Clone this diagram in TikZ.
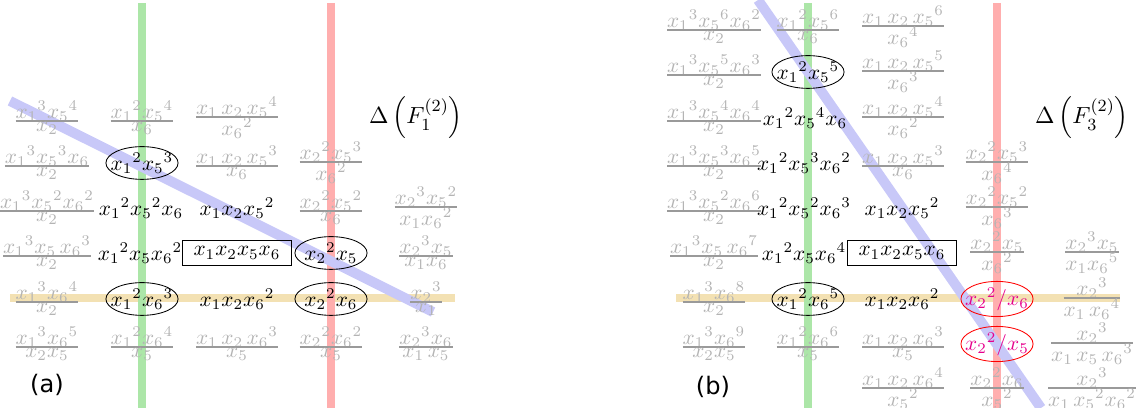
\documentclass[tikz,border=0pt]{standalone}
\usepackage{amsmath}
\usepackage{fontspec}
\usepackage{tikz}
\usetikzlibrary{shapes.geometric}
\newfontfamily\tagfont{DejaVu Sans}
\definecolor{colone}{HTML}{ACE6A8}
\definecolor{coltwo}{HTML}{FFAEAE}
\definecolor{floor}{HTML}{F3E1B3}
\definecolor{sweep}{HTML}{C8C8F8}
\definecolor{faint}{HTML}{B4B4B4}
\definecolor{fbar}{HTML}{9A9A9A}
\definecolor{dropink}{HTML}{E6008C}
% tight fraction: numerator, thick bar, denominator
\newcommand{\fr}[2]{\vcenter{\offinterlineskip
  \halign{\hfil$##$\hfil\cr #1\cr
    \noalign{\kern-1pt{\color{fbar}\hrule height 0.9pt}\kern0.3pt}
    #2\cr}}}

\begin{document}
\begin{tikzpicture}[x=0.0165cm,y=-0.0165cm,
  faded/.style={text=faint},
  pick/.style={draw,ellipse,inner sep=-4pt,minimum width=1.19cm,minimum height=0.54cm},
  drop/.style={draw=red,ellipse,text=dropink,inner sep=-4pt,minimum width=1.19cm,minimum height=0.58cm},
  lead/.style={draw,rectangle,inner sep=0pt,minimum width=1.8cm,minimum height=0.41cm},
  tag/.style={font=\tagfont\fontsize{11.3}{13}\selectfont}]
  \useasboundingbox (0,0) rectangle (1136,408);
  % guide lines (a)
  \draw[floor,line width=3.3pt] (10,298) -- (455,298);
  \draw[colone,line width=3.7pt] (142,3) -- (142,408);
  \draw[coltwo,line width=3.7pt] (331,3) -- (331,408);
  \draw[sweep,line width=4.7pt] (10,101) -- (433,312);
  % guide lines (b)
  \draw[floor,line width=3.3pt] (676,298) -- (1120,298);
  \draw[colone,line width=3.7pt] (808,3) -- (808,408);
  \draw[coltwo,line width=3.7pt] (997,3) -- (997,408);
  \draw[sweep,line width=4.7pt] (758,0) -- (1041,408);

  % panel (a)
  \node[faded] (a21) at (47,118) {$\fr{{x_1}^3{x_5}^4}{x_2}$};
  \node[faded] (a22) at (142,118) {$\fr{{x_1}^2{x_5}^4}{x_6}$};
  \node[faded] (a23) at (237,118) {$\fr{x_1\,x_2\,{x_5}^4}{{x_6}^2}$};
  \node[font=\fontsize{11}{13}\selectfont] (delA) at (416,118) {$\Delta\left(F_1^{(2)}\right)$};

  \node[faded] (a31) at (47,163) {$\fr{{x_1}^3{x_5}^3x_6}{x_2}$};
  \node[pick] (a32) at (142,163) {${x_1}^2{x_5}^3$};
  \node[faded] (a33) at (237,163) {$\fr{x_1\,x_2\,{x_5}^3}{x_6}$};
  \node[faded] (a34) at (331,163) {$\fr{{x_2}^2{x_5}^3}{{x_6}^2}$};

  \node[faded] (a41) at (47,208) {$\fr{{x_1}^3{x_5}^2{x_6}^2}{x_2}$};
  \node (a42) at (141,208) {${x_1}^2{x_5}^2x_6$};
  \node (a43) at (237,208) {$x_1x_2{x_5}^2$};
  \node[faded] (a44) at (331,208) {$\fr{{x_2}^2{x_5}^2}{x_6}$};
  \node[faded] (a45) at (426,208) {$\fr{{x_2}^3{x_5}^2}{x_1{x_6}^2}$};

  \node[faded] (a51) at (47,253) {$\fr{{x_1}^3x_5\,{x_6}^3}{x_2}$};
  \node (a52) at (140,253) {${x_1}^2x_5{x_6}^2$};
  \node[lead] (a53) at (237,253) {$x_1x_2x_5x_6$};
  \node[pick] (a54) at (331,253) {${x_2}^2x_5$};
  \node[faded] (a55) at (426,253) {$\fr{{x_2}^3x_5}{x_1x_6}$};

  \node[faded] (a61) at (47,299) {$\fr{{x_1}^3{x_6}^4}{x_2}$};
  \node[pick] (a62) at (142,299) {${x_1}^2{x_6}^3$};
  \node (a63) at (237,299) {$x_1x_2{x_6}^2$};
  \node[pick] (a64) at (331,299) {${x_2}^2x_6$};
  \node[faded] (a65) at (426,299) {$\fr{{x_2}^3}{x_1}$};

  \node[faded] (a71) at (47,344) {$\fr{{x_1}^3{x_6}^5}{x_2x_5}$};
  \node[faded] (a72) at (142,344) {$\fr{{x_1}^2{x_6}^4}{x_5}$};
  \node[faded] (a73) at (237,344) {$\fr{x_1\,x_2\,{x_6}^3}{x_5}$};
  \node[faded] (a74) at (331,344) {$\fr{{x_2}^2{x_6}^2}{x_5}$};
  \node[faded] (a75) at (426,344) {$\fr{{x_2}^3x_6}{x_1\,x_5}$};
  \node[tag] (labA) at (47,385) {(a)};

  % panel (b)
  \node[faded] (b01) at (714,27) {$\fr{{x_1}^3{x_5}^6{x_6}^2}{x_2}$};
  \node[faded] (b02) at (808,27) {$\fr{{x_1}^2{x_5}^6}{x_6}$};
  \node[faded] (b03) at (903,27) {$\fr{x_1\,x_2\,{x_5}^6}{{x_6}^4}$};

  \node[faded] (b11) at (714,72) {$\fr{{x_1}^3{x_5}^5{x_6}^3}{x_2}$};
  \node[pick] (b12) at (808,72) {${x_1}^2{x_5}^5$};
  \node[faded] (b13) at (903,72) {$\fr{x_1\,x_2\,{x_5}^5}{{x_6}^3}$};

  \node[faded] (b21) at (714,118) {$\fr{{x_1}^3{x_5}^4{x_6}^4}{x_2}$};
  \node (b22) at (805,118) {${x_1}^2{x_5}^4x_6$};
  \node[faded] (b23) at (903,118) {$\fr{x_1\,x_2\,{x_5}^4}{{x_6}^2}$};
  \node[font=\fontsize{11}{13}\selectfont] (delB) at (1082,118) {$\Delta\left(F_3^{(2)}\right)$};

  \node[faded] (b31) at (714,163) {$\fr{{x_1}^3{x_5}^3{x_6}^5}{x_2}$};
  \node (b32) at (804,163) {${x_1}^2{x_5}^3{x_6}^2$};
  \node[faded] (b33) at (903,163) {$\fr{x_1\,x_2\,{x_5}^3}{x_6}$};
  \node[faded] (b34) at (997,163) {$\fr{{x_2}^2{x_5}^3}{{x_6}^4}$};

  \node[faded] (b41) at (714,208) {$\fr{{x_1}^3{x_5}^2{x_6}^6}{x_2}$};
  \node (b42) at (804,208) {${x_1}^2{x_5}^2{x_6}^3$};
  \node (b43) at (902,208) {$x_1x_2{x_5}^2$};
  \node[faded] (b44) at (997,208) {$\fr{{x_2}^2{x_5}^2}{{x_6}^3}$};

  \node[faded] (b51) at (714,253) {$\fr{{x_1}^3x_5\,{x_6}^7}{x_2}$};
  \node (b52) at (804,253) {${x_1}^2x_5{x_6}^4$};
  \node[lead] (b53) at (902,253) {$x_1x_2x_5x_6$};
  \node[faded] (b54) at (997,253) {$\fr{{x_2}^2x_5}{{x_6}^2}$};
  \node[faded] (b55) at (1092,253) {$\fr{{x_2}^3x_5}{x_1{x_6}^5}$};

  \node[faded] (b61) at (714,299) {$\fr{{x_1}^3{x_6}^8}{x_2}$};
  \node[pick] (b62) at (808,299) {${x_1}^2{x_6}^5$};
  \node (b63) at (902,299) {$x_1x_2{x_6}^2$};
  \node[drop] (b64) at (997,299) {${x_2}^2/x_6$};
  \node[faded] (b65) at (1092,299) {$\fr{{x_2}^3}{x_1\,{x_6}^4}$};

  \node[faded] (b71) at (714,344) {$\fr{{x_1}^3{x_6}^9}{x_2x_5}$};
  \node[faded] (b72) at (808,344) {$\fr{{x_1}^2{x_6}^6}{x_5}$};
  \node[faded] (b73) at (903,344) {$\fr{x_1\,x_2\,{x_6}^3}{x_5}$};
  \node[drop] (b74) at (997,344) {${x_2}^2/x_5$};
  \node[faded] (b75) at (1092,344) {$\fr{{x_2}^3}{x_1\,x_5\,{x_6}^3}$};

  \node[tag] (labB) at (713,387) {(b)};
  \node[faded] (b83) at (903,389) {$\fr{x_1\,x_2\,{x_6}^4}{{x_5}^2}$};
  \node[faded] (b84) at (997,389) {$\fr{{x_2}^2x_6}{{x_5}^2}$};
  \node[faded] (b85) at (1092,389) {$\fr{{x_2}^3}{x_1\,{x_5}^2{x_6}^2}$};
\end{tikzpicture}
\end{document}
